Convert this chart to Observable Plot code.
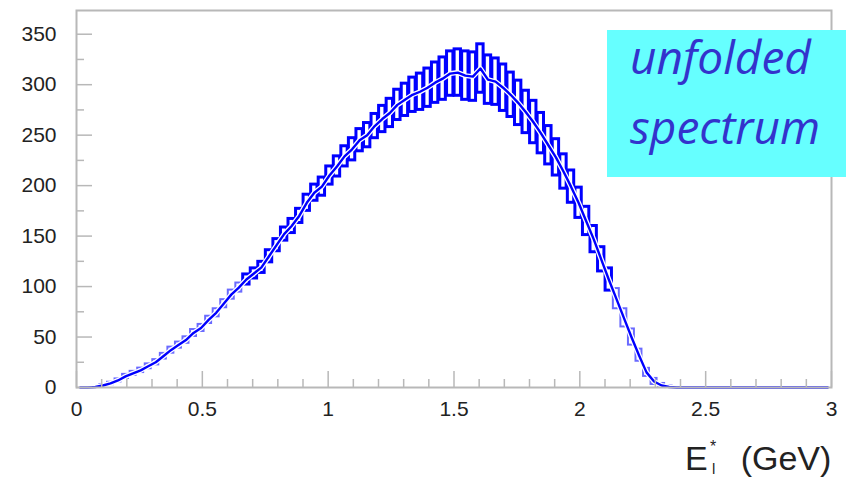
<!DOCTYPE html>
<html>
<head>
<meta charset="utf-8">
<script src="https://cdn.jsdelivr.net/npm/d3@7"></script>
<script src="https://cdn.jsdelivr.net/npm/@observablehq/plot@0.6"></script>
<style>
  body { margin: 0; background: #fff; }
  #wrap { position: relative; width: 846px; height: 482px; overflow: hidden; }
  .legend { position: absolute; left: 607px; top: 30px; width: 239px; height: 147px; background: #66ffff; }
  .legend span { position: absolute; font-family: "Open Sans", sans-serif; font-style: italic; font-size: 46px; color: #3333cc; line-height: 1; white-space: nowrap; }
  .xlabel { position: absolute; font-family: "Liberation Sans", Arial, sans-serif; font-size: 34px; color: #222; white-space: nowrap; line-height: 1; }
  .xlabel .sup { position: absolute; left: 25px; top: -2px; font-size: 16px; line-height: 1; }
  .xlabel .sub { position: absolute; left: 27px; top: 20px; font-size: 15px; line-height: 1; }
</style>
</head>
<body>
<div id="wrap"></div>
<script>
// Histogram: bin width (GeV) and contents
const binWidth = 0.03;
const counts = [
  0, 0, 0.5, 2, 4, 7, 11, 14, 17, 21,
  25, 31, 37, 42, 47, 54, 59, 67, 74, 83,
  92, 99, 107, 113, 119, 130, 141, 152, 160, 170,
  183, 193, 199, 210, 219, 229, 236, 245, 250, 259,
  266, 272, 280, 285, 290, 293, 297, 302, 306, 311,
  312, 309, 308, 316, 305, 303, 297, 290, 282, 273,
  263, 252, 240, 228, 214, 199, 183, 165, 147, 127,
  107, 88, 69, 50, 32, 15, 6, 2, 0.5, 0,
  0, 0, 0, 0, 0, 0, 0, 0, 0, 0,
  0, 0, 0, 0, 0, 0, 0, 0, 0, 0
];
const errors = [
  0.3, 0.3, 0.5, 1, 1.2, 1.5, 2, 2, 2.2, 2.4,
  2.6, 2.8, 3, 3, 3.2, 3.4, 3.5, 3.6, 4, 4,
  4.5, 4.5, 5, 5, 5.5, 6, 6, 6.5, 7, 7,
  8, 8, 9, 9, 10, 10, 11, 11, 12, 12,
  13, 14, 15, 16, 17, 18, 19, 20, 21, 22,
  23, 24, 24, 24, 24, 23, 23, 22, 22, 21,
  21, 20, 19, 18, 17, 16, 15, 14, 13, 12,
  11, 10, 9, 8, 6, 4, 3, 2, 1, 0,
  0, 0, 0, 0, 0, 0, 0, 0, 0, 0,
  0, 0, 0, 0, 0, 0, 0, 0, 0, 0
];
const xMajorTicks = [0, 0.5, 1, 1.5, 2, 2.5, 3];
const xTickLabels = ["0", "0.5", "1", "1.5", "2", "2.5", "3"];
const xMinorTicks = [0.1, 0.2, 0.3, 0.4, 0.6, 0.7, 0.8, 0.9, 1.1, 1.2, 1.3, 1.4, 1.6, 1.7, 1.8, 1.9, 2.1, 2.2, 2.3, 2.4, 2.6, 2.7, 2.8, 2.9];
const yMajorTicks = [0, 50, 100, 150, 200, 250, 300, 350];
const yMinorTicks = [25, 75, 125, 175, 225, 275, 325];
const legendLines = ["unfolded", "spectrum"];

const bins = counts.map((v, i) => ({
  x1: i * binWidth, x2: (i + 1) * binWidth, xc: (i + 0.5) * binWidth,
  v, lo: v - errors[i], hi: v + errors[i]
}));

const W = 846, H = 482;
const mL = 76, mR = 15, mT = 10, mB = 95;
const plotW = W - mL - mR, plotH = H - mT - mB;
const axisCol = "#b8b8b8";

const chart = Plot.plot({
  width: W, height: H,
  marginLeft: mL, marginRight: mR, marginTop: mT, marginBottom: mB,
  style: { fontFamily: "Liberation Sans, Arial, sans-serif", fontSize: "21px", color: "#222", background: "white" },
  x: { domain: [0, 3] },
  y: { domain: [0, 373.5] },
  marks: [
    Plot.rect(bins.filter(d => d.v > 0 && d.v < 100), { x1: "x1", x2: "x2", y1: "lo", y2: "hi", fill: "none", stroke: "#6a6aff", strokeWidth: 2, insetLeft: 0.8, insetRight: 0.8 }),
    Plot.rect(bins.filter(d => d.v >= 100), { x1: "x1", x2: "x2", y1: "lo", y2: "hi", fill: "none", stroke: "#0000ff", strokeWidth: 3, insetLeft: 0.6, insetRight: 0.6 }),
    Plot.line(bins, { x: "xc", y: "v", stroke: "white", strokeWidth: 5, curve: "linear" }),
    Plot.line(bins, { x: "xc", y: "v", stroke: "#0000ff", strokeWidth: 2.4, curve: "linear" }),
    Plot.tickX(xMajorTicks, { x: d => d, stroke: axisCol, strokeWidth: 1.5, insetTop: plotH - 16 }),
    Plot.tickX(xMinorTicks, { x: d => d, stroke: axisCol, strokeWidth: 1.5, insetTop: plotH - 8 }),
    Plot.tickY(yMajorTicks, { y: d => d, stroke: axisCol, strokeWidth: 1.5, insetRight: plotW - 16 }),
    Plot.tickY(yMinorTicks, { y: d => d, stroke: axisCol, strokeWidth: 1.5, insetRight: plotW - 8 }),
    Plot.frame({ stroke: axisCol, strokeWidth: 2 }),
    Plot.axisX({ ticks: xMajorTicks, tickSize: 0, tickPadding: 14, tickFormat: (d, i) => xTickLabels[i], label: null }),
    Plot.axisY({ ticks: yMajorTicks, tickSize: 0, tickPadding: 20, tickFormat: d => String(d), label: null })
  ]
});

const wrap = document.getElementById("wrap");
wrap.appendChild(chart);

const leg = document.createElement("div");
leg.className = "legend";
legendLines.forEach((t, i) => {
  const s = document.createElement("span");
  s.textContent = t;
  s.style.left = "23px";
  s.style.top = (i === 0 ? 3 : 73) + "px";
  leg.appendChild(s);
});
wrap.appendChild(leg);

const xl = document.createElement("div");
xl.className = "xlabel";
xl.style.left = "685px";
xl.style.top = "441px";
xl.innerHTML = 'E<span class="sup">*</span><span class="sub">l</span><span style="margin-left:33px">(GeV)</span>';
wrap.appendChild(xl);
</script>
</body>
</html>
